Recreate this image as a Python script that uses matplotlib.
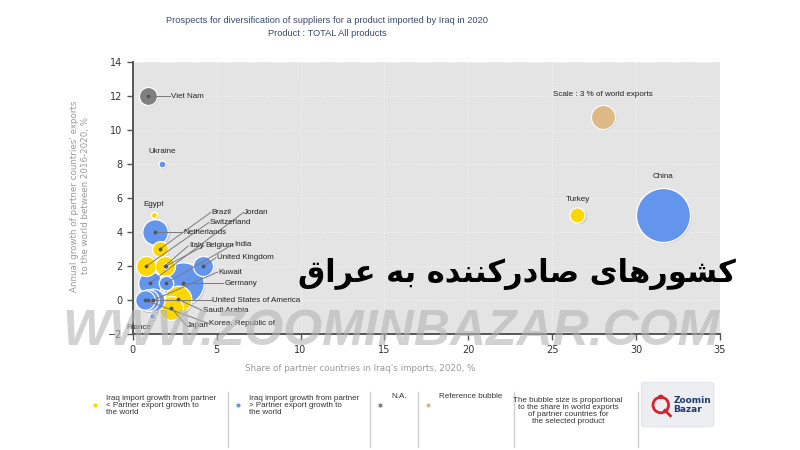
from matplotlib import pyplot as plt
from matplotlib import transforms
from matplotlib.patches import FancyBboxPatch, Ellipse
from matplotlib.lines import Line2D

# data
countries = ['China', 'Turkey', 'Viet Nam', 'Ukraine', 'Egypt', 'Netherlands', 'Brazil',
             'Switzerland', 'Italy', 'Belgium', 'Jordan', 'India', 'United Kingdom', 'Kuwait',
             'Germany', 'United States of America', 'Saudi Arabia', 'Korea, Republic of',
             'Japan', 'France']
share_iraq = [31.6, 26.5, 0.9, 1.75, 1.25, 1.35, 1.6, 0.8, 1.9, 1.95, 1.0, 1.95, 4.2, 1.2,
              3.0, 0.9, 2.7, 0.75, 2.3, 1.15]
growth = [5.0, 5.0, 12.0, 8.0, 5.0, 4.0, 3.0, 2.0, 2.0, 2.0, 1.0, 1.0, 2.0, 0.0,
          1.0, 0.0, 0.05, 0.0, -0.45, -0.95]
world_share = [15.2, 1.2, 1.7, 0.25, 0.2, 3.4, 1.3, 2.1, 2.1, 0.13, 2.9, 1.1, 2.1, 2.7,
               8.9, 2.4, 3.7, 2.0, 3.0, 0.2]
group = ['gt', 'lt', 'na', 'gt', 'lt', 'gt', 'lt', 'lt', 'lt', 'gt', 'gt', 'gt', 'gt', 'gt',
         'gt', 'gt', 'lt', 'gt', 'lt', 'gt']

# label anchor points (data units)
label_x = [31.6, 26.5, 2.2, 1.75, 1.25, 2.95, 4.65, 4.55, 3.3, 4.25, 6.6, 6.0, 4.95, 5.05,
           5.4, 4.7, 4.15, 4.5, 3.2, 0.35]
label_y = [7.25, 5.95, 12.0, 8.75, 5.65, 4.0, 5.17, 4.58, 3.2, 3.2, 5.17, 3.3, 2.5, 1.66,
           1.0, 0.0, -0.6, -1.35, -1.5, -1.6]
label_line = [False, False, True, False, False, True, True, True, True, True, True, True,
              True, True, True, True, True, True, True, False]

ref_x, ref_y, ref_share = 28.0, 10.8, 3.0

colors = {'lt': '#ffd700', 'gt': '#6495ed', 'na': '#808080', 'ref': '#deb887'}
narrow = ['Liberation Sans', 'DejaVu Sans']


def shaped_persian():
    # presentation forms, written in visual (left to right) order
    words = ['\ufb90\ufeb8\ufeee\ufead\ufeeb\ufe8e\ufbfc',
             '\ufebb\ufe8e\ufea9\ufead\ufb90\ufee8\ufee8\ufeaa\ufee9',
             '\ufe91\ufeea',
             '\ufecb\ufeae\ufe8d\ufed5']
    return ' '.join(words)[::-1]


fig = plt.figure(figsize=(8, 4.5), dpi=100)
ax = fig.add_axes([0.166, 0.257, 0.734, 0.605])
ax.set_facecolor('#e4e4e4')
ax.set_xlim(0, 35)
ax.set_ylim(-2, 14)
ax.set_xticks(range(0, 36, 5))
ax.set_yticks(range(-2, 15, 2))
ax.grid(True, color='#f4f4f4', linestyle=':', linewidth=0.8)
ax.set_axisbelow(True)
for side in ['top', 'right']:
    ax.spines[side].set_visible(False)
for side in ['left', 'bottom']:
    ax.spines[side].set_color('#555555')
    ax.spines[side].set_linewidth(1.4)
ax.tick_params(colors='#555555', labelcolor='#333333', labelsize=7, length=4, width=1)

k = 99.5
shadow = transforms.offset_copy(ax.transData, fig=fig, x=1.2, y=-1.2, units='dots')

# reference bubble
ax.scatter([ref_x], [ref_y], s=ref_share * k, color='#999999', alpha=0.35,
           transform=shadow, zorder=2, linewidths=0)
ax.scatter([ref_x], [ref_y], s=ref_share * k, color=colors['ref'], edgecolors='white',
           linewidths=0.8, zorder=3)
ax.text(ref_x, ref_y + 1.3, 'Scale : 3 % of world exports', fontsize=5.8, ha='center',
        va='center', color='#222222', zorder=6, family=narrow)

order = sorted(range(len(countries)), key=lambda i: -world_share[i])
for n, i in enumerate(order):
    ax.scatter([share_iraq[i]], [growth[i]], s=world_share[i] * k, color='#888888',
               alpha=0.3, transform=shadow, zorder=2 + n * 0.01, linewidths=0)
    ax.scatter([share_iraq[i]], [growth[i]], s=world_share[i] * k, color=colors[group[i]],
               edgecolors='white', linewidths=0.9, zorder=3 + n * 0.01)

for i, name in enumerate(countries):
    if label_line[i]:
        ax.plot([share_iraq[i], label_x[i]], [growth[i], label_y[i]], color='#7a7a7a',
                linewidth=0.7, zorder=4)
        ax.scatter([share_iraq[i]], [growth[i]], s=3, color='#555555', zorder=4.5)
        ax.text(label_x[i] + 0.05, label_y[i], name, fontsize=5.8, ha='left', va='center',
                color='#222222', zorder=6, family=narrow)
    else:
        ax.text(label_x[i], label_y[i], name, fontsize=5.8, ha='center', va='center',
                color='#222222', zorder=6, family=narrow)

fig.text(0.409, 0.94, 'Prospects for diversification of suppliers for a product imported by Iraq in 2020\n'
         'Product : TOTAL All products', ha='center', va='center', fontsize=6.7,
         color='#3b4a6b', linespacing=1.45, family=narrow)
fig.text(0.1, 0.565, "Annual growth of partner countries' exports\nto the world between 2016-2020, %",
         rotation=90, ha='center', va='center', fontsize=6.3, color='#9a9a9a', linespacing=1.2)
fig.text(0.45, 0.182, "Share of partner countries in Iraq's imports, 2020, %", ha='center',
         va='center', fontsize=6.3, color='#9a9a9a')

# legend row
legend_items = [
    (0.119, 'lt', 'Iraq import growth from partner\n< Partner export growth to\nthe world'),
    (0.297, 'gt', 'Iraq import growth from partner\n> Partner export growth to\nthe world'),
    (0.475, 'na', 'N.A.'),
    (0.535, 'ref', 'Reference bubble'),
]
for x, key, txt in legend_items:
    fig.lines.append(Line2D([x], [0.1], marker='o', markersize=4, color=colors[key],
                            markeredgecolor='white', transform=fig.transFigure))
    fig.text(x + 0.014, 0.098 if '\n' in txt else 0.118, txt, fontsize=5.8, va='center',
             ha='left', color='#333333', linespacing=1.0, family=narrow)
fig.text(0.71, 0.087, 'The bubble size is proportional\nto the share in world exports\n'
         'of partner countries for\nthe selected product', fontsize=5.8, ha='center',
         va='center', color='#333333', linespacing=1.0, family=narrow)
for x in [0.285, 0.463, 0.522, 0.642, 0.797]:
    fig.lines.append(Line2D([x, x], [0.007, 0.129], color='#cfcfcf', linewidth=1,
                            transform=fig.transFigure))

# logo box
fig.patches.append(FancyBboxPatch((0.806, 0.056), 0.082, 0.09, boxstyle='round,pad=0.004',
                                  facecolor='#eceef2', edgecolor='#e2e5ea',
                                  transform=fig.transFigure))
fig.patches.append(Ellipse((0.826, 0.1), 0.0195, 0.0347, facecolor='none', edgecolor='#d4232c',
                           linewidth=2.0, transform=fig.transFigure))
fig.patches.append(Ellipse((0.826, 0.118), 0.007, 0.01, facecolor='#d4232c', edgecolor='none',
                           transform=fig.transFigure))
fig.lines.append(Line2D([0.831, 0.838], [0.088, 0.076], color='#d4232c', linewidth=2.0,
                        transform=fig.transFigure))
fig.text(0.842, 0.1, 'Zoomin\nBazar', fontsize=6.5, weight='bold', color='#1e3a6e',
         ha='left', va='center', linespacing=0.95)

# overlay texts
fig.text(0.489, 0.262, 'WWW.ZOOMINBAZAR.COM', fontsize=36, weight='bold', style='italic',
         color='#b5b5b5', alpha=0.6, ha='center', va='center', zorder=20, family=narrow)
fig.text(0.646, 0.39, shaped_persian(), fontsize=22, weight='bold', color='black',
         ha='center', va='center', zorder=21, family=['DejaVu Sans'])

plt.savefig('out.png', dpi=100)
